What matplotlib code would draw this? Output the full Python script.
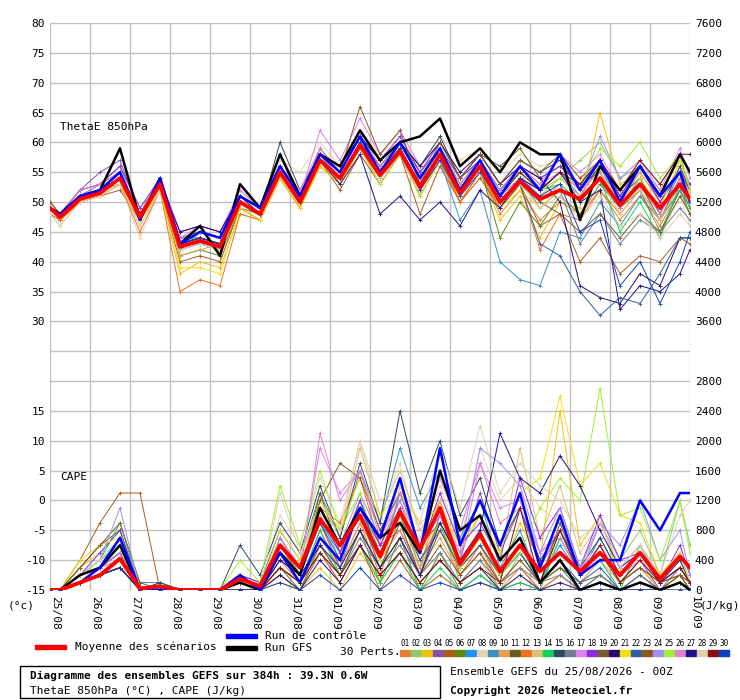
import numpy as np
import matplotlib.pyplot as plt
from matplotlib.patches import Rectangle

# time in days since 25/08 00Z (first point, then every 12h at 06Z/18Z, then end)
days = [0] + [0.25 + 0.5 * k for k in range(32)] + [16]
date_labels = ['25/08', '26/08', '27/08', '28/08', '29/08', '30/08', '31/08', '01/09', '02/09',
               '03/09', '04/09', '05/09', '06/09', '07/09', '08/09', '09/09', '10/09']

theta_mean = [49, 47.5, 50.5, 51.5, 54, 47.5, 53, 42.5, 43.5, 42.5, 50, 48, 55, 50, 57, 54, 59.5,
              54.5, 58.5, 52.5, 58, 51.5, 56, 50, 53.5, 50.5, 52, 50.5, 54, 49.5, 53, 49, 53, 50.5]
theta_ctrl = [49, 48, 51, 52, 55, 47, 54, 43, 45, 44, 51, 49, 56, 51, 58, 55, 61, 55, 60, 54, 59, 52,
              57, 51, 56, 52, 58, 52, 57, 50, 56, 51, 55, 50]
theta_gfs = [49, 48, 51, 52, 59, 47, 54, 43, 46, 41, 53, 49, 58, 51, 58, 56, 62, 57, 60, 61, 64, 56,
             59, 55, 60, 58, 58, 47, 56, 52, 56, 51, 58, 55]

theta_perts = [
    [49,47,51,52,55,47,54,43,43,42,51,48,56,51,58,53,60,55,59,52,58,50,55,48,52,47,50,48,52,47,51,46,52,49],
    [50,48,52,53,56,49,53,44,45,44,52,49,56,50,58,55,61,56,60,54,59,53,57,52,55,52,54,57,60,54,56,52,57,53],
    [49,47,50,51,53,46,52,38,40,39,48,47,54,49,56,53,59,54,58,51,57,50,55,47,51,44,50,49,65,53,55,50,55,52],
    [49,48,52,55,57,48,54,44,45,44,51,49,56,51,58,55,61,56,60,54,59,53,57,51,56,52,55,52,57,51,56,50,55,52],
    [48,47,50,51,52,47,52,40,41,40,49,47,54,49,57,52,58,53,58,48,56,50,54,49,53,46,48,40,44,38,41,40,44,43],
    [49,48,51,52,53,48,53,41,42,41,49,48,55,50,57,54,59,54,59,52,57,51,56,44,50,46,51,48,53,49,52,45,52,48],
    [49,48,51,52,54,47,53,43,43,43,50,48,55,50,58,54,60,54,59,53,58,51,56,50,54,52,55,51,56,49,54,48,55,50],
    [48,46,50,51,53,44,52,42,43,42,50,48,57,55,60,56,62,58,61,56,61,57,59,55,58,56,57,54,56,51,55,44,51,46],
    [49,48,51,52,54,48,54,42,43,42,51,48,55,50,57,54,59,53,58,51,57,47,52,40,37,36,45,44,50,46,51,47,52,49],
    [49,48,51,52,54,47,53,41,42,43,50,48,55,51,58,54,60,55,59,52,58,51,56,49,53,51,54,51,56,50,55,50,56,51],
    [50,48,51,53,55,48,53,43,44,43,51,49,56,51,57,54,60,56,60,55,59,54,58,56,59,54,56,53,55,49,53,47,54,50],
    [49,47,50,51,53,45,52,35,37,36,48,47,54,49,56,53,59,54,58,52,57,50,55,49,53,42,48,47,52,48,52,47,53,49],
    [50,48,51,52,54,48,53,44,45,44,51,49,56,51,58,54,60,55,59,53,59,52,56,51,55,50,53,50,54,48,52,47,53,49],
    [49,48,51,52,54,48,53,42,45,44,50,48,55,50,57,54,60,54,58,52,58,53,57,52,55,52,53,50,54,45,50,44,53,49],
    [49,48,51,52,55,48,53,43,44,43,51,48,60,52,58,55,61,57,60,56,61,54,58,53,57,55,57,52,56,51,54,48,56,52],
    [49,48,51,52,54,48,53,44,44,43,50,48,55,50,57,54,60,54,59,53,58,52,57,51,54,49,52,43,48,43,47,45,49,47],
    [49,48,51,53,56,47,54,44,46,45,52,49,56,51,62,57,64,58,62,56,60,54,57,52,56,53,58,55,58,52,57,52,59,54],
    [49,48,52,53,56,49,54,45,46,45,51,49,56,51,58,55,61,57,61,55,60,54,57,52,56,54,56,53,57,51,56,50,55,53],
    [49,48,51,52,54,48,53,43,44,43,50,48,55,50,58,54,59,55,58,53,58,52,56,49,53,50,48,45,48,44,48,45,51,48],
    [49,48,51,52,55,48,53,45,46,45,51,49,56,51,58,56,61,57,60,56,60,55,58,53,56,54,50,36,34,33,38,36,44,44],
    [49,48,51,52,53,47,52,39,39,38,49,47,54,49,56,53,59,53,58,51,57,51,56,49,52,49,52,50,55,50,54,49,57,52],
    [49,48,51,52,54,48,53,43,44,43,50,48,55,50,57,54,60,55,59,53,58,52,56,50,53,43,41,35,31,34,33,38,44,44],
    [50,48,51,52,54,48,54,43,44,43,51,48,58,50,59,55,66,58,62,53,60,54,58,53,57,55,58,54,57,52,56,51,55,52],
    [49,48,51,52,54,48,53,43,44,43,50,48,55,50,58,54,60,55,59,53,58,52,56,51,54,52,55,52,61,54,57,53,58,52],
    [49,48,51,52,54,48,53,43,44,43,50,48,55,50,57,54,60,55,59,52,58,53,57,51,55,52,54,53,59,56,60,54,58,52],
    [49,48,52,53,55,48,54,44,45,44,51,49,56,52,59,55,61,56,60,54,59,53,57,52,56,53,55,52,55,49,53,48,54,50],
    [49,48,51,52,54,48,53,43,44,43,50,48,55,50,57,53,58,48,51,47,50,46,52,49,54,52,55,50,52,32,36,35,38,42],
    [48,46,50,51,53,46,52,42,43,42,50,48,55,50,57,54,59,54,58,52,57,51,55,50,53,49,51,47,51,46,48,44,48,46],
    [49,48,51,52,54,48,53,43,44,43,50,48,55,50,57,54,60,55,59,53,58,52,56,51,55,52,55,53,57,52,57,53,58,58],
    [49,48,51,52,54,48,53,43,44,43,50,48,55,50,57,54,60,55,59,52,57,51,55,50,54,51,53,45,47,36,40,33,40,45],
]

# CAPE in hundreds of J/kg
cape_mean = [0, 0, 1, 2, 4.2, 0.2, 0.5, 0, 0, 0, 1.5, 0.5, 6, 3, 9.5, 6, 10, 4.5, 10.5, 5.5, 11, 3.5,
             7.5, 2.5, 6, 2.5, 5, 2.5, 5, 2, 5, 1.5, 4.5, 3]
cape_ctrl = [0, 0, 1, 3, 7, 0, 0, 0, 0, 0, 2, 0, 5, 1, 7, 4, 11, 7, 15, 5, 19, 6, 12, 6, 13, 3, 10, 2,
             4, 4, 12, 8, 13, 13]
cape_gfs = [0, 0, 2, 3, 6, 0, 0, 0, 0, 0, 1, 0, 5, 2, 11, 6, 11, 7, 9, 5, 16, 8, 10, 4, 7, 1, 4, 0,
            1, 0, 1, 0, 1, 0]
cape_perts = [
    [0,0,1,3,5,0,0,0,0,0,1,0,4,1,8,3,9,2,10,3,12,2,5,0,3,0,2,0,1,0,2,0,1,0],
    [0,0,2,4,6,0,1,0,0,0,2,0,7,2,10,4,12,5,11,3,9,1,4,0,5,1,7,2,9,4,8,2,12,6],
    [0,0,3,5,8,0,0,0,0,0,0,0,1,0,3,0,5,1,14,6,12,3,8,2,9,4,24,6,10,1,3,0,2,0],
    [0,0,2,3,4,0,0,0,0,0,1,0,5,2,9,3,11,6,8,2,10,4,13,5,11,3,8,2,6,1,4,0,3,1],
    [0,0,4,9,13,13,0,0,0,0,0,0,2,0,5,1,6,0,4,0,2,0,1,0,0,0,0,0,0,0,0,0,0,0],
    [0,0,1,2,3,0,0,0,0,0,0,0,3,0,6,2,8,1,7,0,5,0,2,0,1,0,0,0,0,0,1,0,2,0],
    [0,0,2,3,7,0,0,0,0,0,2,0,6,3,9,5,12,4,13,6,10,3,8,2,5,1,6,2,7,2,5,1,4,1],
    [0,0,1,2,3,0,0,0,0,0,1,0,10,6,15,9,20,10,17,7,14,6,19,12,15,11,9,3,6,2,4,1,3,1],
    [0,0,2,4,6,1,1,0,0,0,2,1,8,4,13,7,16,9,19,11,16,7,12,3,8,1,3,0,2,0,1,0,1,0],
    [0,0,1,2,4,0,0,0,0,0,1,0,3,1,7,3,9,4,8,3,7,2,5,1,4,1,3,1,4,1,3,0,2,1],
    [0,0,3,6,8,0,0,0,0,0,0,0,4,2,13,5,10,3,9,2,8,3,6,2,5,1,3,1,2,0,1,0,2,0],
    [0,0,1,2,3,0,0,0,0,0,1,0,5,3,11,9,15,6,12,4,9,2,6,1,3,0,2,0,1,0,1,0,1,0],
    [0,0,2,3,4,0,0,0,0,0,1,0,6,3,12,7,19,10,16,8,12,5,10,4,19,7,14,5,9,3,6,2,5,2],
    [0,0,2,4,9,0,0,0,0,0,2,0,5,1,8,2,6,1,5,0,3,0,2,0,1,0,7,2,4,0,6,1,3,1],
    [0,0,1,3,5,0,1,0,0,0,6,2,9,5,14,7,17,9,24,13,20,10,15,6,11,4,8,3,7,2,5,1,4,1],
    [0,0,1,2,3,0,0,0,0,0,1,0,3,1,5,2,7,3,6,2,5,1,4,1,3,1,2,0,2,0,1,0,1,0],
    [0,0,2,4,6,0,0,0,0,0,1,0,7,3,19,13,16,8,13,6,15,8,17,11,12,5,7,2,9,3,6,2,5,1],
    [0,0,2,5,8,0,0,0,0,0,2,1,6,3,10,5,12,6,11,5,13,6,9,4,15,7,11,3,10,4,5,1,6,2],
    [0,0,1,2,4,0,0,0,0,0,1,0,3,1,6,2,8,3,7,2,6,2,5,1,4,1,9,2,5,1,3,1,2,1],
    [0,0,1,2,3,0,0,0,0,0,0,0,2,0,4,1,6,2,5,1,4,1,3,0,2,0,1,0,1,0,0,0,1,0],
    [0,0,4,6,7,0,0,0,0,0,2,0,8,4,12,8,15,10,13,9,11,6,10,5,13,15,26,14,17,10,9,2,5,1],
    [0,0,2,3,5,0,0,0,0,0,1,0,5,2,9,4,11,5,10,4,8,3,6,2,5,1,4,1,3,0,2,0,1,0],
    [0,0,3,6,9,1,0,0,0,0,1,0,6,2,12,17,15,8,13,6,9,4,7,2,6,1,8,2,5,1,3,1,2,1],
    [0,0,2,4,11,0,0,0,0,0,1,0,7,3,11,6,13,7,12,6,10,5,19,17,14,5,11,3,9,6,12,4,8,2],
    [0,0,2,4,7,0,0,0,0,0,4,1,14,6,16,8,13,4,10,5,9,3,7,2,5,11,15,12,27,10,11,4,12,5],
    [0,0,2,3,5,0,0,0,0,0,1,0,5,2,21,12,16,7,13,6,10,4,17,9,11,5,8,2,6,2,4,1,3,1],
    [0,0,1,2,3,0,0,0,0,0,1,0,4,2,6,3,8,3,7,2,9,4,8,21,15,13,18,14,8,3,5,1,3,1],
    [0,0,2,4,6,0,0,0,0,0,1,0,13,5,10,8,20,12,14,9,19,11,22,13,17,14,12,7,9,3,6,2,10,12],
    [0,0,1,2,3,0,0,0,0,0,1,0,3,1,5,2,6,2,5,1,4,1,3,1,11,1,8,2,6,1,4,1,3,1],
    [0,0,1,2,3,0,0,0,0,0,0,0,1,0,2,0,3,0,2,0,1,0,1,0,0,0,0,0,0,0,0,0,0,0],
]

pert_colors = ['#e87f35', '#8cc96a', '#f0c20a', '#8a4fa6', '#b05a18', '#5a8a10', '#1e90ff', '#e8d3b0',
               '#3a8fc0', '#e8a050', '#6a5a20', '#f07020', '#d8c078', '#10d060', '#2a4a60', '#708090',
               '#e080f0', '#8a2be2', '#7a5a30', '#2a0a70', '#f0e010', '#2a60a0', '#8a5a20', '#a090f0',
               '#a0f030', '#e080d0', '#20108a', '#e0d0b0', '#8a1010', '#1040c0']

left_ticks = [80, 75, 70, 65, 60, 55, 50, 45, 40, 35, 30, 15, 10, 5, 0, -5, -10, -15]
right_ticks = [7600, 7200, 6800, 6400, 6000, 5600, 5200, 4800, 4400, 4000, 3600,
               2800, 2400, 2000, 1600, 1200, 800, 400, 0]

plt.rcParams['font.family'] = 'DejaVu Sans Mono'
plt.rcParams['font.size'] = 8

W, H = 740, 700
fig = plt.figure(figsize=(W / 100, H / 100), dpi=100)
ax = fig.add_axes([50 / W, 110 / H, 640 / W, 567 / H])

def cape_y(vals):
    # CAPE (hundreds J/kg) mapped onto the left scale: 0 -> -15, 400 J/kg per 5 units
    return [-15 + v * 100 / 80 for v in vals]

for i in range(30):
    ax.plot(days, theta_perts[i], color=pert_colors[i], lw=0.7, marker='+', ms=2.5, mew=0.6)
    ax.plot(days, cape_y(cape_perts[i]), color=pert_colors[i], lw=0.7, marker='+', ms=2.5, mew=0.6)
for y in (theta_gfs, cape_y(cape_gfs)):
    ax.plot(days, y, color='black', lw=1.8)
for y in (theta_ctrl, cape_y(cape_ctrl)):
    ax.plot(days, y, color='#0000ff', lw=1.8)
for y in (theta_mean, cape_y(cape_mean)):
    ax.plot(days, y, color='#ff0000', lw=2.8)

ax.set_xlim(0, 16)
ax.set_ylim(-15, 80)
ax.set_xticks(range(17))
ax.set_xticklabels([])
ax.set_yticks(range(-15, 81, 5), minor=False)
ax.set_yticklabels([str(v) if v in left_ticks else '' for v in range(-15, 81, 5)])
ax.grid(True, color='#c0c0c0', lw=1)
ax.tick_params(length=0)
for s in ax.spines.values():
    s.set_visible(False)

ax2 = ax.twinx()
ax2.set_ylim(0, 7600)
ax2.set_yticks(range(0, 7601, 400))
ax2.set_yticklabels([str(v) if v in right_ticks else '' for v in range(0, 7601, 400)])
ax2.tick_params(length=0)
for s in ax2.spines.values():
    s.set_visible(False)

ax.text(0.25, 62, 'ThetaE 850hPa', fontsize=8)
ax.text(0.25, 3.5, 'CAPE', fontsize=8)

for d, lab in enumerate(date_labels):
    fig.text((50 + 40 * d + 5) / W, 1 - 596 / H, lab, rotation=-90, ha='center', va='top', fontsize=8)
fig.text(8 / W, 1 - 606 / H, '(°c)', va='center', fontsize=8)
fig.text(700 / W, 1 - 606 / H, '(J/kg)', va='center', fontsize=8)

# legend
def bar(x, y, w, h, c):
    fig.patches.append(Rectangle((x / W, 1 - (y + h) / H), w / W, h / H, color=c,
                                 transform=fig.transFigure))
bar(35, 645, 31, 4, '#ff0000')
fig.text(75 / W, 1 - 647 / H, 'Moyenne des scénarios', va='center', fontsize=8)
bar(226, 634, 31, 4, '#0000ff')
fig.text(265 / W, 1 - 636 / H, 'Run de contrôle', va='center', fontsize=8)
bar(226, 646, 31, 4, 'black')
fig.text(265 / W, 1 - 648 / H, 'Run GFS', va='center', fontsize=8)
fig.text(340 / W, 1 - 652 / H, '30 Perts.', va='center', fontsize=8)
for i in range(30):
    x = 400 + i * 11
    bar(x, 650, 10, 6, pert_colors[i])
    fig.text((x + 5) / W, 1 - 644 / H, '%02d' % (i + 1), ha='center', va='center', fontsize=5.5)

# info box
fig.patches.append(Rectangle((20 / W, 1 - 698 / H), 420 / W, 32 / H, fill=False, ec='black',
                             lw=1, transform=fig.transFigure))
fig.text(30 / W, 1 - 676 / H, 'Diagramme des ensembles GEFS sur 384h : 39.3N 0.6W',
         va='center', fontsize=8, weight='bold')
fig.text(30 / W, 1 - 691 / H, 'ThetaE 850hPa (°C) , CAPE (J/kg)', va='center', fontsize=8)
fig.text(450 / W, 1 - 672 / H, 'Ensemble GEFS du 25/08/2026 - 00Z', va='center', fontsize=8)
fig.text(450 / W, 1 - 691 / H, 'Copyright 2026 Meteociel.fr', va='center', fontsize=8,
         weight='bold')

fig.savefig('out.png', dpi=100)
